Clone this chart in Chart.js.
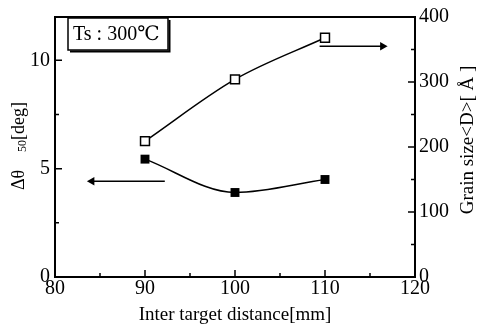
<!DOCTYPE html>
<html><head><meta charset="utf-8">
<script src="https://cdn.jsdelivr.net/npm/chart.js@4/dist/chart.umd.min.js"></script>
<style>html,body{margin:0;padding:0;background:#fff}#wrap{width:479px;height:326px}</style>
</head><body><div id="wrap"><canvas id="c" width="479" height="326"></canvas></div>
<script>
const distances = [90, 100, 110];
const deltaTheta = [5.44, 3.9, 4.5];
const grainSize = [209, 304, 368];
const xTicks = [80, 90, 100, 110, 120];
const leftTicks = [0, 5, 10];
const rightTicks = [0, 100, 200, 300, 400];
const leftArrowX = [92.2, 84.1];
const leftArrowY = [4.42, 4.42];
const rightArrowX = [109.4, 116.4];
const rightArrowY = [355, 355];
const labelText = 'Ts : 300℃';
const rightTitle = 'Grain size<D>[ Å ]';

const FONT = "'Liberation Serif', 'DejaVu Serif', serif";
const pts = (xs, ys) => xs.map((x, i) => ({x, y: ys[i]}));

const ticksPlugin = {
  id: 'inward',
  afterDraw(chart) {
    const ctx = chart.ctx, a = chart.chartArea;
    const sx = chart.scales.x, sy = chart.scales.y, sy2 = chart.scales.y2;
    ctx.save();
    ctx.strokeStyle = '#000'; ctx.lineWidth = 2;
    ctx.strokeRect(a.left, a.top, a.right - a.left, a.bottom - a.top);
    ctx.lineWidth = 1.5;
    ctx.beginPath();
    for (let v = 80; v <= 120; v += 5) {
      const p = sx.getPixelForValue(v); const L = v % 10 === 0 ? 7 : 4;
      ctx.moveTo(p, a.bottom); ctx.lineTo(p, a.bottom - L);
    }
    for (let v = 0; v <= 12; v += 2.5) {
      const p = sy.getPixelForValue(v); const L = v % 5 === 0 ? 7 : 4;
      ctx.moveTo(a.left, p); ctx.lineTo(a.left + L, p);
    }
    for (let v = 0; v <= 400; v += 50) {
      const p = sy2.getPixelForValue(v); const L = v % 100 === 0 ? 7 : 4;
      ctx.moveTo(a.right, p); ctx.lineTo(a.right - L, p);
    }
    ctx.stroke();
    // label box
    const bx = 68, by = 18, bw = 100, bh = 32;
    ctx.lineWidth = 1.5;
    ctx.strokeRect(bx, by, bw, bh);
    ctx.lineWidth = 2;
    ctx.beginPath();
    ctx.moveTo(bx + 2, by + bh + 1.5); ctx.lineTo(bx + bw + 1.5, by + bh + 1.5); ctx.lineTo(bx + bw + 1.5, by + 2);
    ctx.stroke();
    ctx.fillStyle = '#000';
    ctx.font = "20px " + FONT;
    ctx.textBaseline = 'middle'; ctx.textAlign = 'left';
    ctx.fillText(labelText, bx + 5, by + bh / 2 + 1);
    // left axis title with subscript
    ctx.save();
    ctx.translate(19, 146); ctx.rotate(-Math.PI / 2);
    const t1 = 'Δθ', t3 = '[deg]';
    ctx.font = "18px " + FONT;
    const w1 = ctx.measureText(t1).width;
    ctx.font = "12px " + FONT; const w2 = ctx.measureText('50').width;
    ctx.font = "18px " + FONT; const w3 = ctx.measureText(t3).width;
    const gap = 18;
    let x0 = -(w1 + gap + w2 + w3) / 2;
    ctx.font = "18px " + FONT; ctx.fillText(t1, x0, 0);
    ctx.font = "12px " + FONT; ctx.fillText('50', x0 + w1 + gap, 4);
    ctx.font = "18px " + FONT; ctx.fillText(t3, x0 + w1 + gap + w2, 0);
    ctx.restore();
    // right axis title (reads bottom to top)
    ctx.save();
    ctx.translate(468, 140); ctx.rotate(-Math.PI / 2);
    ctx.font = "19px " + FONT; ctx.textAlign = 'center';
    ctx.fillText(rightTitle, 0, 0);
    ctx.restore();
    ctx.restore();
  }
};

new Chart(document.getElementById('c'), {
  type: 'line',
  data: {
    datasets: [
      { data: pts(distances, deltaTheta), yAxisID: 'y', borderColor: '#000', backgroundColor: '#000',
        borderWidth: 1.5, cubicInterpolationMode: 'monotone', pointStyle: 'rect', pointRadius: 6.3, pointBorderWidth: 0 },
      { data: pts(distances, grainSize), yAxisID: 'y2', borderColor: '#000', backgroundColor: '#fff',
        borderWidth: 1.5, cubicInterpolationMode: 'monotone', pointStyle: 'rect', pointRadius: 6.3, pointBorderWidth: 1.5 },
      { data: pts(leftArrowX, leftArrowY), yAxisID: 'y', borderColor: '#000', backgroundColor: '#000',
        borderWidth: 1.5, pointStyle: 'triangle', pointRotation: -90, pointRadius: [0, 5], pointBorderWidth: 0 },
      { data: pts(rightArrowX, rightArrowY), yAxisID: 'y2', borderColor: '#000', backgroundColor: '#000',
        borderWidth: 1.5, pointStyle: 'triangle', pointRotation: 90, pointRadius: [0, 5], pointBorderWidth: 0 }
    ]
  },
  options: {
    responsive: false, animation: false,
    layout: { padding: { top: 15, left: 0, right: 0, bottom: 0 } },
    plugins: { legend: { display: false }, tooltip: { enabled: false } },
    scales: {
      x: { type: 'linear', min: 80, max: 120,
        afterFit: s => { s.height = 49; },
        afterBuildTicks: s => { s.ticks = xTicks.map(v => ({value: v})); },
        ticks: { color: '#000', font: { family: FONT, size: 20 }, padding: 0, maxRotation: 0 },
        grid: { display: false, drawTicks: false }, border: { display: false },
        title: { display: true, text: 'Inter target distance[mm]', color: '#000', font: { family: FONT, size: 19 }, padding: { top: -5, bottom: 0 } } },
      y: { type: 'linear', position: 'left', min: 0, max: 12,
        afterFit: s => { s.width = 55; },
        afterBuildTicks: s => { s.ticks = leftTicks.map(v => ({value: v})); },
        ticks: { color: '#000', font: { family: FONT, size: 20 }, padding: 5 },
        grid: { display: false, drawTicks: false }, border: { display: false } },
      y2: { type: 'linear', position: 'right', min: 0, max: 400,
        afterFit: s => { s.width = 64; },
        afterBuildTicks: s => { s.ticks = rightTicks.map(v => ({value: v})); },
        ticks: { color: '#000', font: { family: FONT, size: 20 }, padding: 4 },
        grid: { display: false, drawTicks: false }, border: { display: false } }
    }
  },
  plugins: [ticksPlugin]
});
</script></body></html>
